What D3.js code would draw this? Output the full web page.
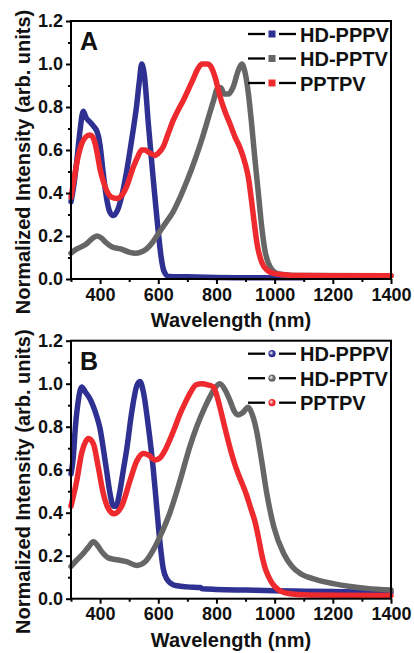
<!DOCTYPE html>
<html lang="en">
<head>
<meta charset="UTF-8">
<title>Normalized Intensity</title>
<script src="https://cdnjs.cloudflare.com/ajax/libs/d3/7.9.0/d3.min.js"></script>
<style>
  body { margin: 0; background: #fff; }
  svg { display: block; font-family: "Liberation Sans", Arial, sans-serif; font-weight: bold; }
</style>
</head>
<body>
<svg width="414" height="653"></svg>
<script>
// ---- data: [wavelength nm, normalized intensity] ----
const seriesNames = ["HD-PPPV", "HD-PPTV", "PPTPV"];
const seriesColors = ["#2e3192", "#666666", "#ee2a2e"];

// panel A
const aPPPV = [[300,0.36],[308,0.42],[320,0.55],[331,0.69],[342,0.78],[352,0.75],[365,0.73],[378,0.71],[388,0.69],[395,0.66],[400,0.62],[411,0.49],[423,0.37],[434,0.31],[445,0.295],[460,0.32],[480,0.42],[495,0.53],[510,0.66],[525,0.80],[535,0.92],[543,1.0],[552,0.95],[566,0.72],[575,0.58],[583,0.46],[592,0.33],[600,0.22],[610,0.10],[620,0.035],[635,0.012],[700,0.01],[800,0.007],[900,0.006],[1000,0.006],[1100,0.006]];
const aPPTV = [[300,0.12],[320,0.14],[350,0.16],[375,0.19],[390,0.20],[405,0.19],[420,0.17],[440,0.15],[470,0.14],[500,0.125],[520,0.12],[540,0.125],[560,0.14],[580,0.17],[600,0.21],[625,0.26],[650,0.31],[675,0.38],[700,0.46],[725,0.55],[750,0.65],[770,0.74],[790,0.83],[805,0.89],[815,0.89],[827,0.86],[840,0.86],[858,0.895],[875,0.97],[887,1.0],[900,0.95],[910,0.86],[921,0.72],[932,0.56],[944,0.40],[955,0.25],[967,0.13],[985,0.055],[1010,0.025],[1050,0.018],[1100,0.016],[1400,0.015]];
const aPPTPV = [[300,0.38],[310,0.46],[320,0.54],[337,0.63],[350,0.66],[365,0.67],[375,0.66],[383,0.63],[392,0.57],[400,0.51],[412,0.45],[423,0.41],[440,0.38],[457,0.375],[475,0.39],[491,0.43],[514,0.52],[530,0.57],[543,0.60],[555,0.60],[566,0.59],[589,0.575],[600,0.585],[617,0.615],[635,0.68],[652,0.74],[670,0.79],[686,0.83],[703,0.88],[720,0.93],[737,0.98],[750,1.0],[770,1.0],[780,0.99],[795,0.94],[812,0.85],[829,0.78],[847,0.72],[864,0.66],[881,0.61],[898,0.54],[910,0.47],[920,0.37],[930,0.26],[940,0.16],[955,0.08],[975,0.04],[1000,0.025],[1050,0.018],[1100,0.016],[1200,0.015],[1400,0.015]];

// panel B
const bPPPV = [[300,0.58],[308,0.66],[314,0.78],[325,0.92],[337,0.985],[350,0.96],[365,0.93],[388,0.85],[400,0.79],[412,0.69],[423,0.59],[434,0.49],[446,0.43],[455,0.43],[468,0.50],[480,0.60],[491,0.69],[509,0.87],[526,0.99],[537,1.01],[549,0.96],[566,0.80],[583,0.60],[595,0.42],[606,0.26],[617,0.14],[630,0.09],[645,0.07],[665,0.06],[700,0.055],[745,0.052],[752,0.046],[800,0.043],[900,0.04],[1000,0.037],[1100,0.035],[1200,0.033],[1300,0.031],[1400,0.03]];
const bPPTV = [[300,0.15],[320,0.18],[342,0.21],[360,0.24],[377,0.265],[390,0.25],[405,0.22],[428,0.19],[463,0.18],[491,0.172],[526,0.155],[555,0.172],[583,0.227],[606,0.29],[640,0.40],[675,0.55],[709,0.71],[732,0.80],[760,0.89],[778,0.94],[795,0.98],[812,1.0],[830,0.97],[847,0.92],[862,0.87],[875,0.855],[890,0.865],[909,0.89],[922,0.86],[938,0.78],[955,0.645],[973,0.49],[997,0.335],[1031,0.21],[1060,0.15],[1087,0.118],[1140,0.09],[1202,0.07],[1260,0.057],[1317,0.048],[1400,0.04]];
const bPPTPV = [[300,0.43],[320,0.55],[337,0.68],[350,0.73],[360,0.745],[377,0.72],[394,0.61],[411,0.49],[428,0.42],[448,0.395],[474,0.43],[503,0.55],[526,0.64],[549,0.675],[566,0.668],[589,0.645],[606,0.655],[623,0.69],[640,0.74],[658,0.80],[675,0.86],[692,0.91],[709,0.955],[730,0.995],[750,1.0],[770,0.995],[789,0.985],[800,0.95],[812,0.89],[830,0.79],[847,0.70],[862,0.63],[875,0.58],[890,0.53],[904,0.48],[918,0.42],[932,0.36],[945,0.28],[955,0.21],[968,0.14],[980,0.10],[995,0.065],[1010,0.045],[1030,0.03],[1060,0.022],[1100,0.018],[1200,0.016],[1400,0.015]];

const xMajorTicks = [400, 600, 800, 1000, 1200, 1400];
const xMinorTicks = [300, 500, 700, 900, 1100, 1300];
const yMajorTicks = [0.0, 0.2, 0.4, 0.6, 0.8, 1.0, 1.2];
const yMinorTicks = [0.1, 0.3, 0.5, 0.7, 0.9, 1.1];
const panelLabels = ["A", "B"];
const xTitle = "Wavelength (nm)";
const yTitle = "Normalized Intensity (arb. units)";

// ---- drawing ----
const svg = d3.select("svg");
const left = 71, right = 391;

const x = d3.scaleLinear().domain([300, 1400]).range([left, right]);

// sphere-looking markers for the panel B legend
const defs = svg.append("defs");
seriesColors.forEach((c, i) => {
    const g = defs.append("radialGradient").attr("id", "ball" + i)
        .attr("cx", "40%").attr("cy", "40%").attr("r", "60%");
    g.append("stop").attr("offset", "0%").attr("stop-color", "#fff");
    g.append("stop").attr("offset", "55%").attr("stop-color", c);
    g.append("stop").attr("offset", "100%").attr("stop-color", c);
});

function drawPanel(top, bottom, label, series, marker) {
    const y = d3.scaleLinear().domain([0, 1.2]).range([bottom, top]);
    const g = svg.append("g");

    // curves
    const line = d3.line().x(d => x(d[0])).y(d => y(d[1])).curve(d3.curveMonotoneX);
    series.forEach((s, i) => {
        g.append("path")
            .attr("d", line(s))
            .attr("fill", "none")
            .attr("stroke", seriesColors[i])
            .attr("stroke-width", 5.5)
            .attr("stroke-linejoin", "round")
            .attr("stroke-linecap", "round");
    });

    // axes
    const xAxis = d3.axisBottom(x).tickValues(xMajorTicks).tickSize(5).tickPadding(4).tickFormat(d3.format("d"));
    const xMinor = d3.axisBottom(x).tickValues(xMinorTicks).tickSize(3).tickFormat("");
    const yAxis = d3.axisLeft(y).tickValues(yMajorTicks).tickSize(5).tickPadding(3).tickFormat(d3.format(".1f"));
    const yMinor = d3.axisLeft(y).tickValues(yMinorTicks).tickSize(3).tickFormat("");

    [xAxis, xMinor].forEach(a => {
        g.append("g").attr("transform", `translate(0,${bottom})`).call(a)
            .call(s => s.select(".domain").remove());
    });
    [yAxis, yMinor].forEach(a => {
        g.append("g").attr("transform", `translate(${left},0)`).call(a)
            .call(s => s.select(".domain").remove());
    });
    g.selectAll(".tick line").attr("stroke", "#000").attr("stroke-width", 2);
    g.selectAll(".tick text")
        .attr("fill", "#111")
        .attr("font-size", 18)
        .attr("font-family", "'Liberation Sans', Arial, sans-serif")
        .attr("font-weight", "bold");

    // frame
    g.append("rect")
        .attr("x", left).attr("y", top)
        .attr("width", right - left).attr("height", bottom - top)
        .attr("fill", "none").attr("stroke", "#000").attr("stroke-width", 2);

    // titles
    g.append("text")
        .attr("x", (left + right) / 2).attr("y", bottom + 48)
        .attr("text-anchor", "middle").attr("font-size", 20).attr("fill", "#111")
        .text(xTitle);
    g.append("text")
        .attr("transform", `translate(30,${(top + bottom) / 2 + 12}) rotate(-90)`)
        .attr("text-anchor", "middle").attr("font-size", 20).attr("fill", "#111")
        .text(yTitle);

    // panel letter
    g.append("text")
        .attr("x", 80).attr("y", top + 29)
        .attr("font-size", 25).attr("fill", "#111")
        .text(label);

    // legend
    seriesNames.forEach((name, i) => {
        const ly = top + 13 + i * 24.5;
        g.append("line").attr("x1", 248).attr("x2", 265).attr("y1", ly).attr("y2", ly)
            .attr("stroke", "#000").attr("stroke-width", 2.3);
        g.append("line").attr("x1", 279).attr("x2", 296).attr("y1", ly).attr("y2", ly)
            .attr("stroke", "#000").attr("stroke-width", 2.3);
        if (marker === "square") {
            g.append("rect").attr("x", 268.5).attr("y", ly - 3.5)
                .attr("width", 7).attr("height", 7).attr("fill", seriesColors[i]);
        } else {
            g.append("circle").attr("cx", 272).attr("cy", ly).attr("r", 3.6)
                .attr("fill", `url(#ball${i})`);
        }
        g.append("text")
            .attr("x", 300).attr("y", ly + 7.5)
            .attr("font-size", 20).attr("fill", "#111")
            .text(name);
    });
}

drawPanel(21, 279, panelLabels[0], [aPPPV, aPPTV, aPPTPV], "square");
drawPanel(340.7, 598.7, panelLabels[1], [bPPPV, bPPTV, bPPTPV], "circle");
</script>
</body>
</html>
